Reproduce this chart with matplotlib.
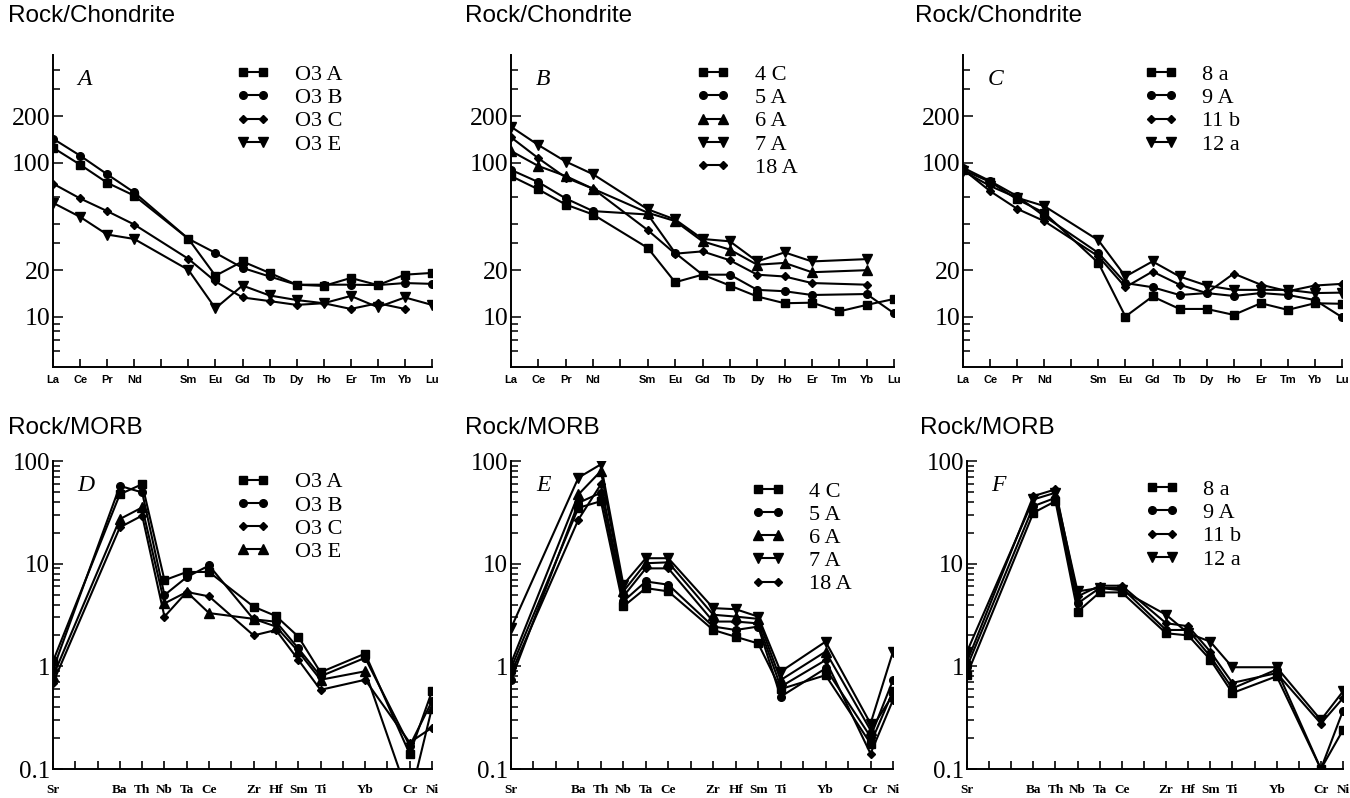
import numpy as np
import matplotlib
matplotlib.use("Agg")
import matplotlib.pyplot as plt
from matplotlib.ticker import FixedLocator, NullFormatter, LogLocator

nan = np.nan

# x categories
ree = ["La", "Ce", "Pr", "Nd", "", "Sm", "Eu", "Gd", "Tb", "Dy", "Ho", "Er", "Tm", "Yb", "Lu"]
spider = ["Sr", "", "", "Ba", "Th", "Nb", "Ta", "Ce", "", "Zr", "Hf", "Sm", "Ti", "", "Yb", "", "Cr", "Ni"]

# A: REE, Rock/Chondrite
a_names = ["O3 A", "O3 B", "O3 C", "O3 E"]
a_o3a = [125, 97, 74, 61, nan, 32, 18.4, 22.8, 19.2, 16.1, 15.8, 17.8, 16.0, 18.7, 19.2]
a_o3b = [143, 111, 84, 64, nan, 32, 25.9, 20.7, 18.2, 16.1, 16.1, 16.1, 16.0, 16.5, 16.3]
a_o3c = [73, 58.5, 48.4, 39.6, nan, 23.7, 16.9, 13.3, 12.6, 11.9, 12.2, 11.2, 12.2, 11.2, nan]
a_o3e = [54.8, 44.4, 34.1, 31.9, nan, 20.1, 11.3, 15.9, 13.7, 12.8, 12.2, 13.6, 11.5, 13.3, 11.9]

# B: REE
b_names = ["4 C", "5 A", "6 A", "7 A", "18 A"]
b_4c = [81.8, 67, 53.4, 46, nan, 27.9, 16.7, 18.7, 15.9, 13.5, 12.2, 12.3, 10.8, 11.9, 13.0]
b_5a = [89.7, 74.7, 58.5, 48.4, nan, 46, 25.9, 18.7, 18.7, 14.9, 14.6, 13.8, nan, 14.0, 10.5]
b_6a = [119, 95, 81.8, 67.6, nan, 47.2, 41.7, 30.8, 27.2, 21.7, 22.3, 19.4, nan, 20.0, nan]
b_7a = [171, 130, 101.6, 84.0, nan, 49.7, 42.7, 31.9, 30.8, 22.8, 26.1, 22.8, nan, 23.6, nan]
b_18a = [146, 106.7, 79.9, 67.6, nan, 36.4, 25.6, 26.5, 23.2, 18.7, 18.2, 16.5, nan, 16.1, nan]

# C: REE
c_names = ["8 a", "9 A", "11 b", "12 a"]
c_8a = [89.6, 74.9, 57.7, 47.2, nan, 22.3, 10.0, 13.5, 11.2, 11.2, 10.25, 12.2, 11.05, 12.2, 12.1]
c_9a = [92.7, 75.9, 60.6, 44.9, nan, 25.9, 16.5, 15.5, 13.8, 14.2, 13.6, 14.2, 13.8, 12.8, 9.9]
c_11b = [90.5, 65.3, 50.1, 41.7, nan, 24.6, 15.5, 19.6, 16.1, 14.2, 19.0, 16.1, 14.6, 15.9, 16.3]
c_12a = [88.3, 70.5, 59.1, 52.2, nan, 31.3, 18.2, 22.8, 18.2, 15.9, 14.9, 14.9, 14.9, 14.2, 14.3]

# D: spider, Rock/MORB
d_o3a = [1.12, nan, nan, 47.5, 59.4, 6.9, 8.3, 8.3, nan, 3.81, 3.09, 1.95, 0.875, nan, 1.33, nan, 0.14, 0.573]
d_o3b = [0.93, nan, nan, 57.3, 49.4, 4.94, 7.4, 9.6, nan, 2.87, 2.72, 1.50, 0.80, nan, 1.21, nan, 0.168, 0.458]
d_o3c = [0.69, nan, nan, 22.6, 29.4, 3.05, 5.3, 4.8, nan, 2.0, 2.26, 1.16, 0.59, nan, 0.74, nan, 0.181, 0.253]
d_o3e = [0.8, nan, nan, 27.2, 35.3, 4.1, 5.3, 3.3, nan, 2.9, 2.44, 1.40, 0.74, nan, 0.895, nan, 0.05, 0.395]

# E: spider
e_4c = [0.955, nan, nan, 35, 40.6, 3.83, 5.78, 5.37, nan, 2.26, 1.94, 1.67, 0.6, nan, 0.82, nan, 0.177, 0.57]
e_5a = [0.735, nan, nan, 39.1, 49.1, 4.3, 6.71, 6.24, nan, 2.44, 2.26, 2.44, 0.506, nan, 0.955, nan, 0.206, 0.735]
e_6a = [1.07, nan, nan, 47.2, 79.8, 5.37, 10.1, 10.3, nan, 3.18, 3.05, 2.9, 0.735, nan, 1.39, nan, 0.239, 0.53]
e_7a = [2.35, nan, nan, 68.8, 92.8, 6.24, 11.3, 11.3, nan, 3.69, 3.6, 3.05, 0.887, nan, 1.74, nan, 0.277, 1.39]
e_18a = [0.855, nan, nan, 26.9, 59.2, 4.8, 9.0, 9.0, nan, 2.73, 2.73, 2.62, 0.633, nan, 1.15, nan, 0.141, 0.47]

# F: spider
f_8a = [0.83, nan, nan, 31.3, 40.6, 3.4, 5.25, 5.25, nan, 2.1, 2.0, 1.16, 0.55, nan, 0.8, nan, 0.1, 0.24]
f_9a = [0.99, nan, nan, 36.3, 43.8, 4.1, 5.8, 5.8, nan, 2.26, 2.26, 1.25, 0.61, nan, 0.93, nan, 0.1, 0.37]
f_11b = [1.11, nan, nan, 45.5, 52.9, 4.8, 6.1, 6.1, nan, 2.63, 2.46, 1.39, 0.69, nan, 0.86, nan, 0.277, 0.49]
f_12a = [1.39, nan, nan, 42.2, 49.1, 5.37, 5.8, 5.5, nan, 3.18, 2.1, 1.74, 0.98, nan, 0.98, nan, 0.30, 0.57]

SERIF = "Liberation Serif"
SANS = "Liberation Sans"
W, H = 1350, 798


def px_axes(fig, left, right, top, bottom):
    return fig.add_axes([left / W, 1 - bottom / H, (right - left) / W, (bottom - top) / H])


def draw(ax, series, markers, names, cats, letter, leg_x, leg_y):
    x = np.arange(len(cats))
    for vals, m, name in zip(series, markers, names):
        y = np.array(vals, dtype=float)
        ok = ~np.isnan(y)
        ms = 5.5 if m in ("s", "o") else 6.5
        if m == "D":
            ms = 4.5
        ax.plot(x[ok], y[ok], color="black", lw=1.5, marker=m, ms=ms, label=name)
    ax.set_yscale("log")
    ax.set_xlim(0, len(cats) - 1)
    ax.set_xticks(x)
    ax.spines["top"].set_visible(False)
    ax.spines["right"].set_visible(False)
    for s in ("left", "bottom"):
        ax.spines[s].set_linewidth(1.4)
    ax.tick_params(axis="x", direction="in", length=6, width=1.2)
    ax.tick_params(axis="y", which="both", direction="in", width=1.1, pad=2)
    ax.tick_params(axis="y", which="major", length=7)
    ax.tick_params(axis="y", which="minor", length=5)
    ax.text(0.065, 0.92, letter, transform=ax.transAxes, fontsize=17,
            family=SERIF, style="italic", va="center", ha="left")
    ax.legend(loc="upper left", bbox_to_anchor=(leg_x, leg_y), frameon=False,
              numpoints=2, handlelength=1.5, handletextpad=1.1, labelspacing=0.12,
              borderaxespad=0, borderpad=0, prop={"family": SERIF, "size": 16})


fig = plt.figure(figsize=(W / 100, H / 100), dpi=100)

top_cols = [(53, 432), (511, 894), (963, 1342)]
bot_cols = [(53, 432), (511, 893), (967, 1343)]

top_sets = [
    ([a_o3a, a_o3b, a_o3c, a_o3e], ["s", "o", "D", "v"], a_names, "A", 0.485),
    ([b_4c, b_5a, b_6a, b_7a, b_18a], ["s", "o", "^", "v", "D"], b_names, "B", 0.485),
    ([c_8a, c_9a, c_11b, c_12a], ["s", "o", "D", "v"], c_names, "C", 0.478),
]
bot_sets = [
    ([d_o3a, d_o3b, d_o3c, d_o3e], ["s", "o", "D", "^"], a_names, "D", 0.485, 0.965),
    ([e_4c, e_5a, e_6a, e_7a, e_18a], ["s", "o", "^", "v", "D"], b_names, "E", 0.63, 0.935),
    ([f_8a, f_9a, f_11b, f_12a], ["s", "o", "D", "v"], c_names, "F", 0.473, 0.94),
]

title_x_top = [8, 465, 915]
title_x_bot = [8, 465, 920]

for (l, r), (ser, mk, nm, let, lx), tx in zip(top_cols, top_sets, title_x_top):
    ax = px_axes(fig, l, r, 55, 367)
    draw(ax, ser, mk, nm, ree, let, lx, 0.97)
    ax.set_ylim(4.7, 500)
    ax.yaxis.set_major_locator(FixedLocator([10, 20, 100, 200]))
    ax.yaxis.set_minor_locator(FixedLocator([6, 7, 8, 9, 30, 40, 60, 300, 400]))
    ax.yaxis.set_minor_formatter(NullFormatter())
    ax.set_yticklabels(["10", "20", "100", "200"], family=SERIF, fontsize=18.5)
    ax.set_xticklabels(ree, family=SANS, fontsize=8, fontweight="bold")
    ax.tick_params(axis="x", pad=6)
    fig.text(tx / W, 1 - 16 / H, "Rock/Chondrite", family=SANS, fontsize=17.5, va="center")

for (l, r), (ser, mk, nm, let, lx, ly), tx in zip(bot_cols, bot_sets, title_x_bot):
    ax = px_axes(fig, l, r, 461, 769)
    draw(ax, ser, mk, nm, spider, let, lx, ly)
    ax.set_ylim(0.1, 100)
    ax.yaxis.set_major_locator(FixedLocator([0.1, 1, 10, 100]))
    ax.yaxis.set_minor_locator(LogLocator(base=10, subs=np.arange(2, 10)))
    ax.yaxis.set_minor_formatter(NullFormatter())
    ax.set_yticklabels(["0.1", "1", "10", "100"], family=SERIF, fontsize=18)
    ax.set_xticklabels(spider, family=SERIF, fontsize=9.5, fontweight="bold")
    ax.tick_params(axis="x", pad=11)
    fig.text(tx / W, 1 - 428 / H, "Rock/MORB", family=SANS, fontsize=17.5, va="center")

fig.savefig("out.png", dpi=100)
